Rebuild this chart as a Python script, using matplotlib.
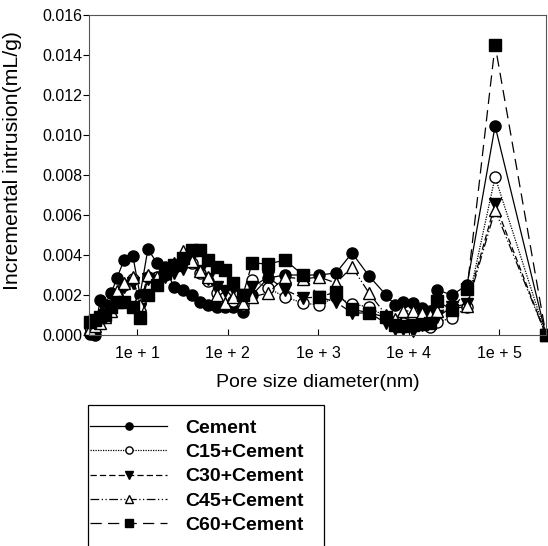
import numpy as np
import matplotlib
matplotlib.use("Agg")
import matplotlib.pyplot as plt
from matplotlib.patches import Rectangle
from matplotlib.ticker import FixedLocator, NullLocator, FormatStrFormatter

plt.rcParams['font.family'] = ['Liberation Sans', 'DejaVu Sans']

# pore diameter (nm), shared by all mixes
diameter = [3.0, 3.4, 3.9, 4.4, 5.2, 6.0, 7.2, 9.0, 10.8, 13.2,
            16.6, 20.4, 25.6, 32.2, 40.5, 49.7, 60.9, 76.6, 93.8, 115,
            148, 187, 280, 432, 682, 1025, 1580, 2375, 3660, 5640,
            7090, 8690, 11200, 14100, 17300, 20700, 30300, 44300, 90400, 330000]

# incremental intrusion, x1e-3 mL/g
cement = [0.05, 0.0, 1.75, 1.5, 2.1, 2.85, 3.75, 3.95, 2.0, 4.3,
          3.6, 3.4, 2.4, 2.25, 2.0, 1.65, 1.5, 1.4, 1.4, 1.4,
          1.15, 2.0, 2.85, 3.0, 3.0, 3.0, 3.1, 4.1, 2.95, 2.0,
          1.5, 1.65, 1.6, 1.35, 1.2, 2.25, 2.0, 2.5, 10.45, 0.0]
c15 = [0.4, 0.5, 0.8, 1.1, 1.5, 2.0, 2.5, 2.8, 1.6, 2.9,
       2.9, 3.0, 3.4, 3.7, 3.6, 3.1, 2.7, 2.1, 1.9, 1.7,
       1.5, 2.75, 2.35, 1.9, 1.6, 1.5, 1.9, 1.55, 1.4, 0.9,
       0.5, 0.6, 0.9, 0.9, 0.4, 0.65, 0.85, 1.4, 7.9, 0.0]
c30 = [0.3, 0.4, 0.7, 1.0, 1.4, 1.9, 2.4, 2.6, 1.3, 2.8,
       2.7, 2.9, 3.1, 3.3, 3.9, 3.2, 2.8, 2.4, 2.2, 2.3,
       2.0, 2.4, 2.9, 2.25, 1.85, 1.9, 1.65, 1.1, 1.1, 0.6,
       0.3, 0.3, 0.2, 0.5, 0.6, 0.9, 1.4, 1.55, 6.55, 0.0]
c45 = [0.3, 0.45, 0.6, 0.9, 1.2, 2.2, 2.6, 2.9, 1.5, 3.0,
       2.9, 3.1, 3.6, 4.2, 3.7, 3.2, 2.9, 2.0, 1.6, 1.9,
       1.6, 1.9, 2.1, 2.9, 2.8, 2.9, 2.6, 3.4, 2.1, 1.0,
       0.8, 1.2, 1.2, 1.1, 1.0, 1.2, 1.3, 1.45, 6.25, 0.0]
c60 = [0.65, 0.75, 0.9, 1.0, 1.4, 1.65, 1.65, 1.4, 0.85, 2.0,
       2.5, 3.1, 3.5, 3.85, 4.25, 4.25, 3.75, 3.4, 3.25, 2.6,
       2.0, 3.6, 3.55, 3.75, 3.0, 1.9, 2.15, 1.3, 1.1, 0.9,
       0.5, 0.45, 0.5, 0.55, 0.6, 1.7, 1.25, 2.3, 14.5, 0.0]

labels = ['Cement', 'C15+Cement', 'C30+Cement', 'C45+Cement', 'C60+Cement']
x_ticks = [1e1, 1e2, 1e3, 1e4, 1e5]
x_ticklabels = ['1e + 1', '1e + 2', '1e + 3', '1e + 4', '1e + 5']

styles = [
    dict(marker='o', mfc='black', ls='-'),
    dict(marker='o', mfc='white', ls=(0, (1, 1))),
    dict(marker='v', mfc='black', ls=(0, (5, 2.5))),
    dict(marker='^', mfc='white', ls=(0, (7, 2, 1, 2, 1, 2))),
    dict(marker='s', mfc='black', ls=(0, (9, 5))),
]

W, H = 548, 546
fig = plt.figure(figsize=(W / 100, H / 100), dpi=100)
ax = fig.add_axes([89 / W, 1 - 335 / H, 457 / W, 320 / H])

series = [cement, c15, c30, c45, c60]
for vals, lab, st in zip(series, labels, styles):
    ax.plot(diameter, np.array(vals) * 1e-3, color='black', lw=0.9,
            marker=st['marker'], markerfacecolor=st['mfc'], markeredgecolor='black',
            markersize=8, linestyle=st['ls'], label=lab, clip_on=False)

ax.set_xscale('log')
ax.set_xlim(2.95, 3.3e5)
ax.set_ylim(0, 0.016)
ax.xaxis.set_major_locator(FixedLocator(x_ticks))
ax.xaxis.set_minor_locator(NullLocator())
ax.set_xticklabels(x_ticklabels)
ax.set_yticks(np.arange(0, 0.0161, 0.002))
ax.yaxis.set_major_formatter(FormatStrFormatter('%.3f'))
ax.tick_params(axis='x', direction='in', length=4, labelsize=11.5, pad=8)
ax.tick_params(axis='y', direction='out', length=4, labelsize=11.5, pad=1)
for s in ax.spines.values():
    s.set_linewidth(0.8)
    s.set_color('#555555')

ax.set_xlabel('Pore size diameter(nm)', fontsize=14, labelpad=9)
ax.set_ylabel('Incremental intrusion(mL/g)', fontsize=15.3)
ax.yaxis.set_label_coords(-0.146, 0.545)

# legend box runs past the bottom of the figure, as in the original
fig.add_artist(Rectangle((88 / W, -0.05), (324 - 88) / W, 1 - 405 / H + 0.05,
                         transform=fig.transFigure, facecolor='none',
                         edgecolor='black', lw=0.9))
fig.legend(loc='upper left', bbox_to_anchor=(90 / W, 1 - 419 / H),
           borderaxespad=0, borderpad=0, frameon=False,
           prop={'weight': 'bold', 'size': 14}, handlelength=3.97,
           handletextpad=0.93, markerscale=0.65, labelspacing=0.35)

fig.savefig('out.png', dpi=100)
